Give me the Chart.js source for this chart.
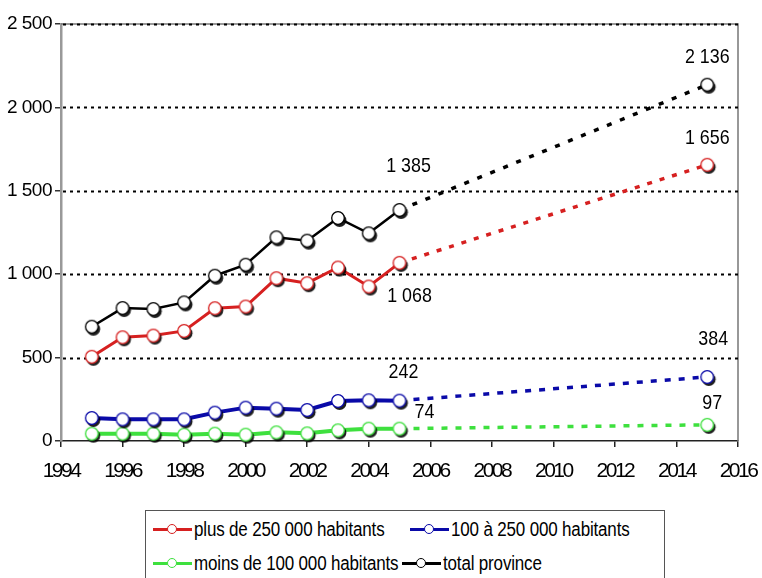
<!DOCTYPE html>
<html>
<head>
<meta charset="utf-8">
<script src="https://cdn.jsdelivr.net/npm/chart.js@4/dist/chart.umd.min.js"></script>
<style>
  html, body { margin: 0; padding: 0; background: #fff; width: 762px; height: 578px; overflow: hidden; }
  #wrap { position: relative; width: 762px; height: 578px; }
  #chart { position: absolute; left: 0; top: 0; }
  #legend {
    position: absolute; left: 145px; top: 510px; width: 520px; height: 90px;
    border: 1px solid #555; box-sizing: border-box; background: #fff;
    font-family: 'Liberation Sans', Arial, sans-serif;
    font-size: 20px; color: #000;
  }
  .item { position: absolute; display: flex; align-items: center; white-space: nowrap; height: 22px; }
  .sym { position: relative; width: 39px; height: 14px; margin-right: 2px; flex: none; }
  .sym .ln { position: absolute; left: 0; right: 0; top: 6px; height: 3px; }
  .sym .dot { position: absolute; left: 14px; top: 1.5px; width: 8px; height: 8px; border-radius: 50%; background: #fff; border-style: solid; border-width: 1.5px; }
  .txt { display: inline-block; transform: scaleX(0.85); transform-origin: 0 50%; letter-spacing: -0.2px; }
</style>
</head>
<body>
<div id="wrap">
  <canvas id="chart" width="762" height="578"></canvas>
  <div id="legend"></div>
</div>
<script>
// Observed years, plus the 2015 projection
const years = [1995, 1996, 1997, 1998, 1999, 2000, 2001, 2002, 2003, 2004, 2005, 2015];

const seriesNames = [
  'plus de 250 000 habitants',
  '100 à 250 000 habitants',
  'moins de 100 000 habitants',
  'total province'
];

const plus250k      = [505, 622, 632, 660, 796, 806, 976, 946, 1040, 926, 1068, 1656];
const from100to250k = [138, 130, 130, 130, 170, 200, 194, 186, 240, 244, 242, 384];
const under100k     = [44, 44, 44, 38, 44, 38, 52, 46, 64, 74, 74, 97];
const totalProv     = [685, 797, 791, 831, 991, 1057, 1221, 1201, 1337, 1245, 1385, 2136];

const yTicks = [0, 500, 1000, 1500, 2000, 2500];
const xTicks = [1994, 1996, 1998, 2000, 2002, 2004, 2006, 2008, 2010, 2012, 2014, 2016];

const FONT = "'Liberation Sans', Arial, sans-serif";

function fmt(v) {
  return String(v).replace(/\B(?=(\d{3})+(?!\d))/g, ' ');
}

// White circle marker with a dark drop shadow
function marker(color) {
  const c = document.createElement('canvas');
  c.width = 22; c.height = 22;
  const g = c.getContext('2d');
  g.fillStyle = 'rgba(0,0,0,0.88)';
  g.beginPath(); g.arc(12.6, 13.2, 6.8, 0, Math.PI * 2); g.fill();
  g.fillStyle = '#fff'; g.strokeStyle = color; g.lineWidth = 1.3;
  g.beginPath(); g.arc(11, 11, 6.3, 0, Math.PI * 2); g.fill(); g.stroke();
  return c;
}

function toPoints(vals) {
  return years.map((x, i) => ({ x: x, y: vals[i] }));
}

const LAST_OBS = 10; // index of 2005; the segment after it is a projection

function series(label, vals, color, width, dash, labelOffsets) {
  return {
    label: label,
    data: toPoints(vals),
    borderColor: color,
    borderWidth: width,
    pointStyle: marker(color),
    pointRadius: 7,
    pointHoverRadius: 7,
    tension: 0,
    fill: false,
    clip: false,
    segment: {
      borderDash: c => c.p0DataIndex >= LAST_OBS ? dash : undefined,
      borderWidth: c => c.p0DataIndex >= LAST_OBS ? 3.5 : width
    },
    valueLabels: labelOffsets
  };
}

const datasets = [
  series(seriesNames[3], totalProv, '#000000', 2.5, [5, 9],
    [{ index: 10, dx: 9, dy: -44 }, { index: 11, dx: 0, dy: -28 }]),
  series(seriesNames[0], plus250k, '#d62020', 3, [5, 8],
    [{ index: 10, dx: 10, dy: 33 }, { index: 11, dx: 0, dy: -27 }]),
  series(seriesNames[1], from100to250k, '#0a0aa8', 4, [6, 8],
    [{ index: 10, dx: 4, dy: -28 }, { index: 11, dx: 6, dy: -38 }]),
  series(seriesNames[2], under100k, '#3ee03e', 4, [6, 8],
    [{ index: 10, dx: 25, dy: -16 }, { index: 11, dx: 5, dy: -22 }])
];

// Tighter letter spacing for an axis' tick labels
function tightLabels(scale, spacing) {
  if (scale._tight) return;
  scale._tight = true;
  const orig = scale.drawLabels.bind(scale);
  scale.drawLabels = function (area) {
    const ctx = scale.ctx;
    ctx.save();
    ctx.letterSpacing = spacing;
    orig(area);
    ctx.restore();
  };
}

// Keep the plot box fixed: no extra room reserved for overhanging tick labels
function fixedBox(scale) {
  scale.paddingLeft = 0; scale.paddingRight = 0;
  scale.paddingTop = 0; scale.paddingBottom = 0;
}

// Dotted horizontal gridlines and the thin top/right frame
const frame = {
  id: 'frame',
  beforeDatasetsDraw(chart) {
    const { ctx, chartArea: a, scales: { y } } = chart;
    ctx.save();
    ctx.strokeStyle = '#777'; ctx.lineWidth = 1.5;
    ctx.beginPath();
    ctx.moveTo(a.left, a.top); ctx.lineTo(a.right, a.top); ctx.lineTo(a.right, a.bottom);
    ctx.stroke();
    ctx.strokeStyle = '#000'; ctx.lineWidth = 2; ctx.setLineDash([3, 4]);
    y.ticks.forEach(t => {
      if (t.value === 0) return;
      const py = Math.round(y.getPixelForValue(t.value)) + 0.5;
      ctx.beginPath(); ctx.moveTo(a.left + 2, py); ctx.lineTo(a.right, py); ctx.stroke();
    });
    ctx.restore();
  }
};

// Value annotations for 2005 and 2015, set in a condensed face
const valueLabels = {
  id: 'valueLabels',
  afterDatasetsDraw(chart) {
    const ctx = chart.ctx;
    chart.data.datasets.forEach((ds, i) => {
      const meta = chart.getDatasetMeta(i);
      (ds.valueLabels || []).forEach(l => {
        const p = meta.data[l.index];
        ctx.save();
        ctx.translate(p.x + l.dx, p.y + l.dy);
        ctx.scale(0.85, 1);
        ctx.font = '21px ' + FONT;
        ctx.fillStyle = '#000';
        ctx.textAlign = 'center';
        ctx.textBaseline = 'middle';
        ctx.fillText(fmt(ds.data[l.index].y), 0, 0);
        ctx.restore();
      });
    });
  }
};

new Chart(document.getElementById('chart'), {
  type: 'line',
  data: { datasets: datasets },
  options: {
    responsive: false,
    animation: false,
    events: [],
    layout: { padding: { left: 0, top: 24, right: 24, bottom: 97 } },
    plugins: { legend: { display: false }, tooltip: { enabled: false } },
    scales: {
      x: {
        type: 'linear',
        min: xTicks[0], max: xTicks[xTicks.length - 1],
        afterBuildTicks: s => { s.ticks = xTicks.map(v => ({ value: v })); },
        afterFit: s => { s.height = 40; fixedBox(s); tightLabels(s, '-2.5px'); },
        ticks: {
          callback: v => String(v),
          color: '#000',
          font: { family: FONT, size: 21 },
          padding: 12,
          maxRotation: 0, autoSkip: false
        },
        grid: { drawOnChartArea: false, drawTicks: true, tickLength: 6, color: '#222', lineWidth: 1.5 },
        border: { color: '#222', width: 1.5 }
      },
      y: {
        min: yTicks[0], max: yTicks[yTicks.length - 1],
        afterBuildTicks: s => { s.ticks = yTicks.map(v => ({ value: v })); },
        afterFit: s => { s.width = 61; fixedBox(s); tightLabels(s, '-0.5px'); },
        ticks: {
          callback: v => fmt(v),
          color: '#000',
          font: { family: FONT, size: 19 },
          padding: 3
        },
        grid: { drawOnChartArea: false, drawTicks: true, tickLength: 6, color: '#333', lineWidth: 1.5 },
        border: { color: '#999', width: 2.5 }
      }
    }
  },
  plugins: [frame, valueLabels]
});

// Legend box below the plot
const legendItems = [
  { name: seriesNames[0], color: '#d62020', left: 7, top: 7 },
  { name: seriesNames[1], color: '#0a0aa8', left: 264, top: 7 },
  { name: seriesNames[2], color: '#3ee03e', left: 7, top: 41 },
  { name: seriesNames[3], color: '#000000', left: 256, top: 41 }
];
const legend = document.getElementById('legend');
legendItems.forEach(it => {
  const item = document.createElement('div');
  item.className = 'item';
  item.style.left = it.left + 'px';
  item.style.top = it.top + 'px';
  const sym = document.createElement('span');
  sym.className = 'sym';
  const ln = document.createElement('span'); ln.className = 'ln'; ln.style.background = it.color;
  const dot = document.createElement('span'); dot.className = 'dot'; dot.style.borderColor = it.color;
  sym.appendChild(ln); sym.appendChild(dot);
  const txt = document.createElement('span'); txt.className = 'txt'; txt.textContent = it.name;
  item.appendChild(sym); item.appendChild(txt);
  legend.appendChild(item);
});
</script>
</body>
</html>
